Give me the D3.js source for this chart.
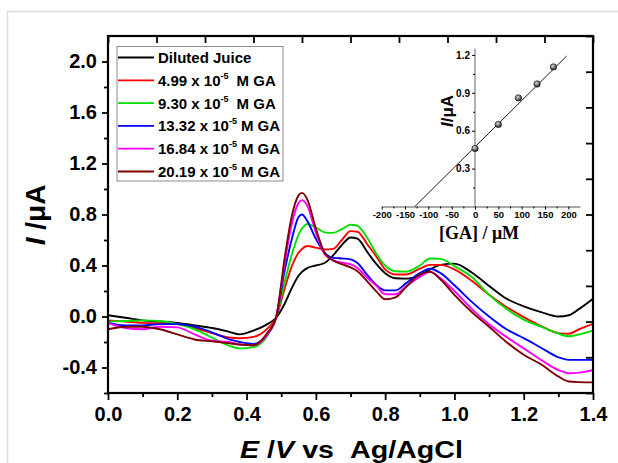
<!DOCTYPE html>
<html>
<head>
<meta charset="utf-8">
<script src="https://cdn.jsdelivr.net/npm/d3@7"></script>
<style>
  body { margin: 0; background: #fff; }
  svg { display: block; font-family: "Liberation Sans", Arial, sans-serif; }
</style>
</head>
<body>
<div id="chart"></div>
<script>
// chart size
var w = 618, h = 463;

// potential grid (V vs Ag/AgCl)
var potential = [0, 0.05, 0.1, 0.15, 0.2, 0.25, 0.3, 0.35, 0.38, 0.42, 0.46, 0.485, 0.51, 0.53, 0.55, 0.56, 0.575, 0.6, 0.625, 0.65, 0.675, 0.7, 0.72, 0.75, 0.775, 0.8, 0.83, 0.86, 0.9, 0.93, 0.96, 1.0, 1.05, 1.1, 1.15, 1.2, 1.25, 1.3, 1.33, 1.36, 1.4];

// currents (uA)
var iJuice  = [0.01, -0.01, -0.03, -0.04, -0.05, -0.07, -0.09, -0.12, -0.14, -0.11, -0.06, -0.01, 0.1, 0.22, 0.32, 0.35, 0.38, 0.4, 0.42, 0.48, 0.56, 0.62, 0.61, 0.5, 0.41, 0.34, 0.3, 0.297, 0.323, 0.37, 0.405, 0.415, 0.345, 0.24, 0.14, 0.08, 0.035, 0.0, 0.01, 0.06, 0.14];
var iGA499  = [-0.03, -0.04, -0.05, -0.055, -0.06, -0.09, -0.13, -0.165, -0.17, -0.16, -0.095, -0.01, 0.22, 0.39, 0.5, 0.53, 0.553, 0.54, 0.525, 0.53, 0.6, 0.67, 0.665, 0.56, 0.47, 0.37, 0.33, 0.33, 0.375, 0.405, 0.405, 0.37, 0.28, 0.17, 0.075, -0.005, -0.075, -0.13, -0.135, -0.1, -0.058];
var iGA930  = [-0.04, -0.035, -0.03, -0.035, -0.06, -0.1, -0.165, -0.23, -0.25, -0.24, -0.15, -0.01, 0.27, 0.48, 0.64, 0.69, 0.724, 0.7, 0.66, 0.656, 0.685, 0.72, 0.71, 0.61, 0.49, 0.4, 0.355, 0.352, 0.4, 0.455, 0.452, 0.395, 0.31, 0.17, 0.06, -0.025, -0.08, -0.135, -0.155, -0.14, -0.11];
var iGA1332 = [-0.05, -0.07, -0.07, -0.06, -0.06, -0.08, -0.125, -0.18, -0.2, -0.215, -0.14, -0.01, 0.36, 0.6, 0.78, 0.8, 0.75, 0.61, 0.5, 0.46, 0.455, 0.448, 0.42, 0.32, 0.245, 0.205, 0.205, 0.26, 0.34, 0.375, 0.34, 0.245, 0.115, 0.0, -0.1, -0.17, -0.245, -0.32, -0.34, -0.34, -0.34];
var iGA1684 = [-0.05, -0.09, -0.1, -0.08, -0.085, -0.14, -0.19, -0.2, -0.22, -0.225, -0.14, -0.01, 0.42, 0.72, 0.89, 0.913, 0.87, 0.66, 0.49, 0.44, 0.422, 0.41, 0.38, 0.3, 0.24, 0.175, 0.175, 0.235, 0.31, 0.35, 0.3, 0.2, 0.06, -0.06, -0.16, -0.25, -0.34, -0.42, -0.445, -0.44, -0.42];
var iGA2019 = [-0.1, -0.08, -0.08, -0.1, -0.14, -0.18, -0.195, -0.21, -0.22, -0.225, -0.13, -0.01, 0.46, 0.78, 0.95, 0.97, 0.92, 0.69, 0.5, 0.44, 0.41, 0.385, 0.355, 0.27, 0.195, 0.135, 0.15, 0.23, 0.33, 0.35, 0.29, 0.17, 0.035, -0.08, -0.2, -0.3, -0.375, -0.47, -0.51, -0.515, -0.517];

var seriesData = [iJuice, iGA499, iGA930, iGA1332, iGA1684, iGA2019];
var seriesColors = ["#000000", "#ff0000", "#00e000", "#0000ff", "#ff00ff", "#800000"];
var legendConc = [null, "4.99", "9.30", "13.32", "16.84", "20.19"];

var xTicks = [0, 0.2, 0.4, 0.6, 0.8, 1.0, 1.2, 1.4];
var yTicks = [-0.4, 0.0, 0.4, 0.8, 1.2, 1.6, 2.0];

// inset: calibration plot
var gaConc = [0, 50, 93, 133, 168];
var gaPeak = [0.46, 0.65, 0.86, 0.97, 1.105];
var fitX = [-129, 196];
var fitY = [0, 1.19];
var insetXTicks = [-200, -150, -100, -50, 0, 50, 100, 150, 200];
var insetYTicks = [0.3, 0.6, 0.9, 1.2];

// plain hyphen minus like the original figure
var fmt1 = function(d) { return d3.format(".1f")(d).replace("\u2212", "-"); };
var fmt0 = function(d) { return String(d); };

var svg = d3.select("#chart").append("svg")
    .attr("width", w)
    .attr("height", h);

// light frame around the figure
svg.append("rect")
    .attr("x", 7.5).attr("y", 11.5)
    .attr("width", 700).attr("height", 600)
    .attr("fill", "none")
    .attr("stroke", "#dcdcdc")
    .attr("stroke-width", 1.5);

var pLeft = 108, pRight = 593, pTop = 36, pBottom = 393;

var xScale = d3.scaleLinear().domain([0, 1.4]).range([pLeft, pRight]);
var yScale = d3.scaleLinear().domain([-0.6, 2.2]).range([pBottom, pTop]);

// curves
var line = d3.line()
    .x(function(d, i) { return xScale(potential[i]); })
    .y(function(d) { return yScale(d); })
    .curve(d3.curveMonotoneX);

var plot = svg.append("g");
seriesData.forEach(function(s, k) {
    plot.append("path")
        .datum(s)
        .attr("d", line)
        .attr("fill", "none")
        .attr("stroke", seriesColors[k])
        .attr("stroke-width", 1.9)
        .attr("stroke-linejoin", "round");
});

function styleTicks(g) {
    g.select(".domain").remove();
    g.selectAll("line").attr("stroke-width", 1.8);
}

// bottom axis
var gx = svg.append("g")
    .attr("transform", "translate(0," + pBottom + ")")
    .call(d3.axisBottom(xScale).tickValues(xTicks).tickSize(7).tickPadding(7).tickFormat(fmt1))
    .call(styleTicks);
gx.selectAll("text").attr("font-size", 20).attr("font-weight", "bold")
    .attr("font-family", "Liberation Sans, Arial, sans-serif");
svg.append("g").attr("transform", "translate(0," + pBottom + ")")
    .call(d3.axisBottom(xScale).tickValues([0.1, 0.3, 0.5, 0.7, 0.9, 1.1, 1.3]).tickSize(4).tickFormat(""))
    .call(styleTicks);

// left axis
var gy = svg.append("g")
    .attr("transform", "translate(" + pLeft + ",0)")
    .call(d3.axisLeft(yScale).tickValues(yTicks).tickSize(6).tickPadding(5).tickFormat(fmt1))
    .call(styleTicks);
gy.selectAll("text").attr("font-size", 20).attr("font-weight", "bold")
    .attr("font-family", "Liberation Sans, Arial, sans-serif");
svg.append("g").attr("transform", "translate(" + pLeft + ",0)")
    .call(d3.axisLeft(yScale).tickValues([-0.6, -0.2, 0.2, 0.6, 1.0, 1.4, 1.8]).tickSize(4).tickFormat(""))
    .call(styleTicks);

// top and right axes: unlabelled ticks pointing inward
var topScale = d3.scaleLinear().domain([0, 10]).range([pLeft, pRight]);
var rightScale = d3.scaleLinear().domain([0, 10]).range([pBottom, pTop]);
svg.append("g").attr("transform", "translate(0," + pTop + ")")
    .call(d3.axisBottom(topScale).ticks(10).tickSize(7).tickFormat(""))
    .call(styleTicks);
svg.append("g").attr("transform", "translate(" + pRight + ",0)")
    .call(d3.axisLeft(rightScale).ticks(10).tickSize(7).tickFormat(""))
    .call(styleTicks);

// frame
svg.append("rect")
    .attr("x", pLeft).attr("y", pTop)
    .attr("width", pRight - pLeft).attr("height", pBottom - pTop)
    .attr("fill", "none")
    .attr("stroke", "#000")
    .attr("stroke-width", 2.2);

// axis titles
var yTitle = svg.append("text")
    .attr("transform", "translate(45,215) rotate(-90)")
    .attr("text-anchor", "middle")
    .attr("font-size", 28)
    .attr("font-weight", "bold");
yTitle.append("tspan").attr("font-style", "italic").text("I");
yTitle.append("tspan").text(" /\u03bcA");

var xTitle = svg.append("text")
    .attr("x", 240).attr("y", 458)
    .attr("font-size", 24)
    .attr("font-weight", "bold")
    .attr("textLength", 223)
    .attr("lengthAdjust", "spacingAndGlyphs");
xTitle.append("tspan").attr("font-style", "italic").text("E");
xTitle.append("tspan").text(" /");
xTitle.append("tspan").attr("font-style", "italic").text("V");
xTitle.append("tspan").text(" vs \u00a0Ag/AgCl");

// legend
var legend = svg.append("g");
legend.append("rect")
    .attr("x", 117).attr("y", 46.5)
    .attr("width", 166).attr("height", 134.5)
    .attr("fill", "#fff")
    .attr("stroke", "#8c8c8c")
    .attr("stroke-width", 1);
seriesColors.forEach(function(c, k) {
    var cy = 57.5 + k * 22.8;
    legend.append("line")
        .attr("x1", 118).attr("x2", 154)
        .attr("y1", cy).attr("y2", cy)
        .attr("stroke", c).attr("stroke-width", 1.8);
    var t = legend.append("text")
        .attr("x", 158).attr("y", cy + 5.5)
        .attr("font-size", 15)
        .attr("font-weight", "bold");
    if (legendConc[k] === null) {
        t.text("Diluted Juice");
    } else {
        t.append("tspan").text(legendConc[k] + " x 10");
        t.append("tspan").attr("font-size", 9).attr("dy", -7).text("-5");
        t.append("tspan").attr("dy", 7).attr("dx", legendConc[k].length < 5 ? 8 : 4).text("M GA");
    }
});

// inset
var ix = d3.scaleLinear().domain([-200, 225]).range([381.7, 580]);
var iy = d3.scaleLinear().domain([0, 1.25]).range([206.5, 48.6]);

var inset = svg.append("g");
// zero line of the y axis
inset.append("line")
    .attr("x1", ix(0)).attr("x2", ix(0))
    .attr("y1", iy(1.25)).attr("y2", iy(0))
    .attr("stroke", "#a0a0a0").attr("stroke-width", 1.6);

var ixAxis = inset.append("g").attr("transform", "translate(0," + iy(0) + ")")
    .call(d3.axisBottom(ix).tickValues(insetXTicks).tickSize(3).tickPadding(2).tickSizeOuter(0).tickFormat(fmt0));
ixAxis.select(".domain").attr("stroke", "#555").attr("stroke-width", 1.2);
ixAxis.selectAll("text").attr("font-size", 9.5).attr("font-weight", "bold")
    .attr("font-family", "Liberation Sans, Arial, sans-serif");
inset.append("g").attr("transform", "translate(0," + iy(0) + ")")
    .call(d3.axisBottom(ix).tickValues([-175, -125, -75, -25, 25, 75, 125, 175]).tickSize(2).tickFormat(""))
    .call(function(g) { g.select(".domain").remove(); });

var iyAxis = inset.append("g").attr("transform", "translate(" + ix(0) + ",0)")
    .call(d3.axisLeft(iy).tickValues(insetYTicks).tickSize(3).tickPadding(2).tickFormat(fmt1));
iyAxis.select(".domain").remove();
iyAxis.selectAll("text").attr("font-size", 10).attr("font-weight", "bold")
    .attr("font-family", "Liberation Sans, Arial, sans-serif");
inset.append("g").attr("transform", "translate(" + ix(0) + ",0)")
    .call(d3.axisLeft(iy).tickValues([0.15, 0.45, 0.75, 1.05]).tickSize(2).tickFormat(""))
    .call(function(g) { g.select(".domain").remove(); });

// fit line
inset.append("line")
    .attr("x1", ix(fitX[0])).attr("y1", iy(fitY[0]))
    .attr("x2", ix(fitX[1])).attr("y2", iy(fitY[1]))
    .attr("stroke", "#000").attr("stroke-width", 0.9);

// shaded points
var grad = svg.append("defs").append("radialGradient")
    .attr("id", "ball").attr("cx", "40%").attr("cy", "35%").attr("r", "65%");
grad.append("stop").attr("offset", "0%").attr("stop-color", "#d8d8d8");
grad.append("stop").attr("offset", "100%").attr("stop-color", "#202020");

inset.selectAll("circle")
    .data(gaConc)
    .enter()
    .append("circle")
    .attr("cx", function(d) { return ix(d); })
    .attr("cy", function(d, i) { return iy(gaPeak[i]); })
    .attr("r", 3.2)
    .attr("fill", "url(#ball)")
    .attr("stroke", "#111")
    .attr("stroke-width", 0.6);

// inset titles
var iyTitle = inset.append("text")
    .attr("transform", "translate(453,111) rotate(-90)")
    .attr("text-anchor", "middle")
    .attr("font-size", 17)
    .attr("font-weight", "bold");
iyTitle.append("tspan").attr("font-style", "italic").text("I");
iyTitle.append("tspan").text("/\u03bcA");

inset.append("text")
    .attr("x", 479).attr("y", 239)
    .attr("text-anchor", "middle")
    .attr("font-family", "Liberation Serif, Times New Roman, serif")
    .attr("font-size", 18)
    .attr("font-weight", "bold")
    .text("[GA] / \u03bcM");
</script>
</body>
</html>
